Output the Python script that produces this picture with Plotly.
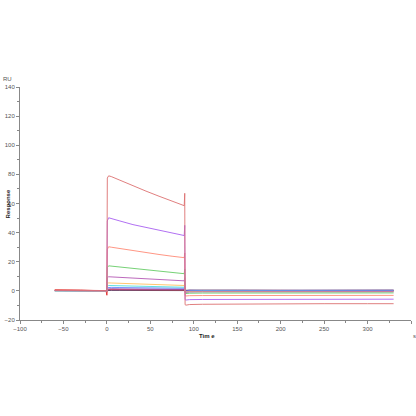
import plotly.graph_objects as go

# shared time grid (s)
time_s = [-60, -45, -30, -15, -1, 0, 0.5, 2, 5, 15, 30, 45, 60, 75, 89,
          89.6, 90, 91, 95, 110, 150, 200, 250, 300, 330]

colors = ["#dc7070", "#a860f0", "#ff8a76", "#66cc66", "#b458b4", "#ffc060",
          "#50dcdc", "#6a88ff", "#7a2a9a", "#e02828", "#404070"]

# response (RU) for each curve on time_s
resp = [
    [0.3, 0.4, 0.2, 0.3, 0.2, 0.0, 77.5, 79.0, 78.5, 76.0, 72.0, 68.5, 65.0, 61.5, 58.5,
     67.0, -9.5, -9.8, -9.4, -9.2, -9.0, -8.9, -8.8, -8.8, -8.8],
    [0.2, 0.3, 0.3, 0.2, 0.1, 0.0, 48.0, 50.2, 49.8, 48.0, 45.5, 43.5, 41.5, 39.8, 38.0,
     45.0, -6.0, -6.3, -6.0, -5.9, -5.8, -5.8, -5.7, -5.7, -5.7],
    [0.4, 0.3, 0.2, 0.4, 0.2, 0.0, 28.5, 30.3, 30.0, 29.0, 27.5, 26.2, 25.0, 23.8, 22.8,
     26.0, -3.3, -3.5, -3.3, -3.2, -3.2, -3.1, -3.1, -3.1, -3.1],
    [0.1, 0.2, 0.3, 0.2, 0.1, 0.0, 16.0, 17.2, 17.0, 16.5, 15.5, 14.5, 13.5, 12.6, 11.8,
     15.0, -1.6, -1.8, -1.6, -1.5, -1.5, -1.4, -1.4, -1.4, -1.4],
    [0.2, 0.3, 0.2, 0.3, 0.2, 0.0, 9.0, 9.7, 9.6, 9.3, 8.8, 8.3, 7.8, 7.3, 6.9,
     9.0, -0.8, -1.0, -0.8, -0.7, -0.7, -0.6, -0.7, -0.6, -0.6],
    [0.3, 0.2, 0.3, 0.2, 0.1, 0.0, 5.0, 5.5, 5.4, 5.2, 4.9, 4.6, 4.3, 4.0, 3.7,
     5.0, -0.5, -0.7, -0.5, -0.4, -0.5, -0.4, -0.4, -0.5, -0.4],
    [0.1, 0.2, 0.1, 0.2, 0.1, 0.0, 3.3, 3.7, 3.6, 3.5, 3.3, 3.1, 2.9, 2.7, 2.5,
     3.5, -0.3, -0.5, -0.3, -0.2, -0.3, -0.2, -0.3, -0.2, -0.3],
    [0.2, 0.1, 0.2, 0.1, 0.2, 0.0, 2.2, 2.4, 2.4, 2.3, 2.2, 2.1, 2.0, 1.9, 1.8,
     2.5, 0.0, -0.2, 0.1, 0.2, 0.1, 0.2, 0.1, 0.2, 0.1],
    [0.3, 0.2, 0.3, 0.2, 0.3, 0.0, 1.2, 1.4, 1.4, 1.3, 1.3, 1.2, 1.2, 1.1, 1.1,
     1.8, 0.3, 0.1, 0.4, 0.3, 0.4, 0.3, 0.4, 0.3, 0.4],
    [0.8, 0.9, 0.6, 0.3, 0.2, -3.0, 0.6, 0.8, 0.8, 0.7, 0.7, 0.6, 0.6, 0.6, 0.6,
     1.2, 0.2, 0.0, 0.2, 0.3, 0.1, 0.3, 0.2, 0.3, 0.2],
    [0.1, 0.0, 0.1, 0.0, 0.1, 0.0, 0.2, 0.3, 0.3, 0.3, 0.2, 0.2, 0.2, 0.2, 0.2,
     0.6, 0.5, 0.4, 0.5, 0.4, 0.5, 0.4, 0.5, 0.4, 0.5],
]

x_ticks = [-100, -50, 0, 50, 100, 150, 200, 250, 300, 350]
y_ticks = [-20, 0, 20, 40, 60, 80, 100, 120, 140]

fig = go.Figure()
for ys, c in zip(reversed(resp), reversed(colors)):
    fig.add_trace(go.Scatter(x=time_s, y=ys, mode="lines",
                             line=dict(color=c, width=0.9), showlegend=False))

axis_font = dict(family="Liberation Sans, Arial", size=6, color="#555555")
fig.update_layout(
    width=416, height=416,
    margin=dict(l=20, r=5, t=87, b=96),
    plot_bgcolor="white", paper_bgcolor="white",
    font=axis_font,
)
fig.update_xaxes(
    range=[-100, 350], tickvals=x_ticks, ticks="outside", ticklen=3,
    tickcolor="#888888", showline=True, linecolor="#888888", linewidth=1,
    showgrid=False, zeroline=False, tickfont=axis_font, automargin=False,
    minor=dict(dtick=25, tick0=0, ticks="outside", ticklen=2, tickcolor="#888888"),
)
fig.update_yaxes(
    range=[-20, 140], tickvals=y_ticks, ticks="outside", ticklen=3,
    tickcolor="#888888", showline=True, linecolor="#888888", linewidth=1,
    showgrid=False, zeroline=False, tickfont=axis_font, automargin=False,
    minor=dict(dtick=10, tick0=0, ticks="outside", ticklen=2, tickcolor="#888888"),
)

lbl = dict(family="Liberation Sans, Arial", size=6, color="#222222")
ann = dict(xref="paper", yref="paper", showarrow=False,
           xanchor="center", yanchor="middle")
fig.add_annotation(text="<b>Tim e</b>", x=0.478, y=-0.069, font=lbl, **ann)
fig.add_annotation(text="s", x=1.008, y=-0.069, font=axis_font, **ann)
fig.add_annotation(text="<b>Response</b>", x=-0.031, y=0.5, textangle=-90,
                   font=lbl, **ann)
fig.add_annotation(text="RU", x=-0.031, y=1.034, font=axis_font, **ann)

# drop the default 8px page margin so the 416px figure fills the window
fig.write_html("out.html", config={"displayModeBar": False},
               post_script="document.body.style.margin='0';")
